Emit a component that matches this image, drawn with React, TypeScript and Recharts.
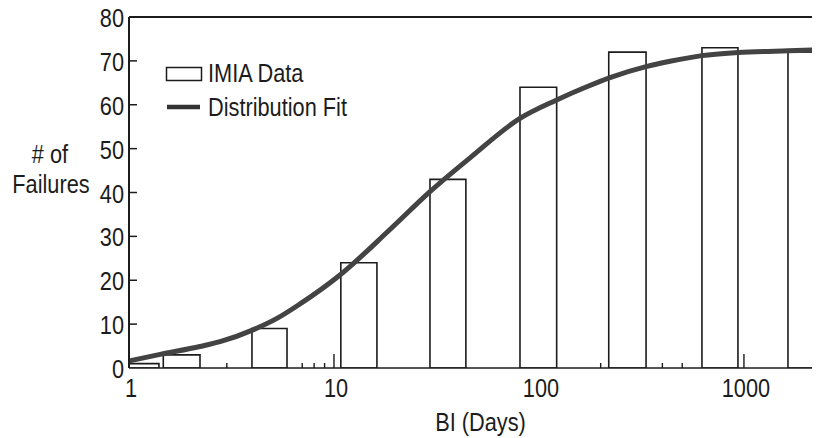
import React from 'react';
import { ComposedChart, Line, XAxis, YAxis, ReferenceArea, ReferenceLine } from 'recharts';

// IMIA cumulative failure counts, one hollow bar per duration bin (days)
const binStart = [1, 1.47, 3.98, 10.8, 29.4, 80.8, 219, 624, 1640];
const binEnd = [1.4, 2.22, 5.9, 16.2, 44, 122, 333, 935, 2460];
const failures = [1, 3, 9, 24, 43, 64, 72, 73, 72];

// Fitted cumulative distribution
const fitDays = [1, 1.42, 2.22, 2.78, 4.03, 5.27, 6.83, 10.7, 18.7, 29.4, 46.1, 80.8, 122, 171, 222, 333, 436, 624, 935, 1640, 2350];
const fitFailures = [1.6, 3.1, 4.9, 6.0, 8.7, 11.3, 14.6, 21.2, 31.5, 40.2, 47.9, 56.9, 61.1, 64.1, 66.2, 68.7, 69.9, 71.2, 71.9, 72.3, 72.5];

// Axes
const xDomain = [1, 2350];
const xLabelTicks = [1, 10, 100, 1000];
const xMarkTicks = [3, 7, 8, 9, 10, 200, 400, 500, 1000];
const xTallTicks = [10, 1000];
const yTicks = [0, 10, 20, 30, 40, 50, 60, 70, 80];

const legendItems = ['IMIA Data', 'Distribution Fit'];

const FONT = "'Liberation Sans', Arial, Helvetica, sans-serif";
const FONT_SIZE = 25;
const INK = '#1c1c1c';

const fitData = fitDays.map((d, i) => ({ days: d, failures: fitFailures[i] }));
const xTicks = Array.from(new Set([...xLabelTicks, ...xMarkTicks])).sort((a, b) => a - b);

// Condensed-looking text: regular face squeezed horizontally
const CText = ({ x, y, anchor = 'start', children }: any) => (
  <text
    transform={`translate(${x} ${y}) scale(0.87 1)`}
    textAnchor={anchor}
    fontFamily={FONT}
    fontSize={FONT_SIZE}
    fill={INK}
  >
    {children}
  </text>
);

const XTick = (props: any) => {
  const { x, y, payload } = props;
  const v = payload.value;
  const hasMark = xMarkTicks.includes(v);
  const len = xTallTicks.includes(v) ? 14 : 5;
  return (
    <g>
      {hasMark && <line x1={x} x2={x} y1={y} y2={y - len} stroke={INK} strokeWidth={1.4} />}
      {xLabelTicks.includes(v) && (
        <CText x={x + 2} y={y + 29} anchor="middle">
          {v}
        </CText>
      )}
    </g>
  );
};

const YTick = (props: any) => {
  const { x, y, payload } = props;
  return (
    <g>
      {payload.value !== 0 && payload.value !== 80 && (
        <line x1={x} x2={x + 8} y1={y} y2={y} stroke={INK} strokeWidth={1.5} />
      )}
      <CText x={x - 5} y={y + 10} anchor="end">
        {payload.value}
      </CText>
    </g>
  );
};

const YTitle = (props: any) => {
  const vb = props.viewBox || { x: 0, y: 0 };
  return (
    <g>
      <CText x={vb.x + 42} y={163} anchor="middle">
        # of
      </CText>
      <CText x={vb.x + 43} y={193} anchor="middle">
        Failures
      </CText>
    </g>
  );
};

const XTitle = (props: any) => {
  const vb = props.viewBox || { x: 0, y: 0, width: 0 };
  return (
    <CText x={vb.x + vb.width / 2 + 6} y={vb.y + 63} anchor="middle">
      BI (Days)
    </CText>
  );
};

export default function App() {
  return (
    <div
      style={{
        position: 'relative',
        width: 820,
        height: 438,
        margin: '-8px 0 0 -8px',
        background: '#fff',
      }}
    >
      <ComposedChart
        width={820}
        height={438}
        data={fitData}
        margin={{ top: 17, right: 0, bottom: 0, left: 8 }}
      >
        <XAxis
          dataKey="days"
          type="number"
          scale="log"
          domain={xDomain}
          allowDataOverflow
          ticks={xTicks}
          interval={0}
          tickSize={0}
          tickMargin={0}
          tickLine={false}
          tick={<XTick />}
          axisLine={{ stroke: INK, strokeWidth: 1.6 }}
          height={70}
          label={<XTitle />}
        />
        <YAxis
          type="number"
          domain={[0, 80]}
          ticks={yTicks}
          interval={0}
          width={121}
          tickSize={0}
          tickMargin={0}
          tickLine={false}
          tick={<YTick />}
          axisLine={{ stroke: INK, strokeWidth: 2 }}
          label={<YTitle />}
        />
        <ReferenceLine y={80} stroke={INK} strokeWidth={2} ifOverflow="visible" />
        {failures.map((count, i) => (
          <ReferenceArea
            key={i}
            x1={binStart[i]}
            x2={binEnd[i]}
            y1={0}
            y2={count}
            fill="none"
            fillOpacity={0}
            stroke={INK}
            strokeWidth={1.6}
            ifOverflow="hidden"
          />
        ))}
        <Line
          dataKey="failures"
          type="monotone"
          stroke="#434343"
          strokeWidth={5}
          dot={false}
          activeDot={false}
          isAnimationActive={false}
        />
      </ComposedChart>
      <div
        style={{
          position: 'absolute',
          left: 0,
          top: 0,
          width: 8,
          height: 438,
          zIndex: 2,
          background: 'linear-gradient(to right, #d6d6d6, #eeeeee)',
        }}
      />
      <svg width={260} height={70} style={{ position: 'absolute', left: 158, top: 58 }}>
        <rect x={8.5} y={9.5} width={35} height={13} fill="#fff" stroke={INK} strokeWidth={1.5} />
        <CText x={50} y={24}>{legendItems[0]}</CText>
        <line x1={9} x2={42} y1={49} y2={49} stroke="#333" strokeWidth={4.5} />
        <CText x={50} y={58}>{legendItems[1]}</CText>
      </svg>
    </div>
  );
}
